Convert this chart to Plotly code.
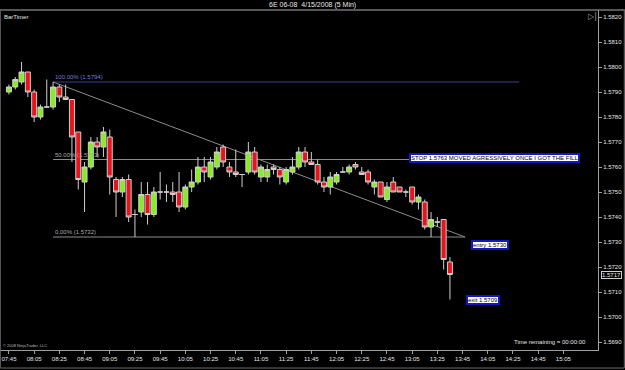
import plotly.graph_objects as go

# ---------------- data ----------------
times = ["07:45","07:50","07:55","08:00","08:05","08:10","08:15","08:20","08:25","08:30",
         "08:35","08:40","08:45","08:50","08:55","09:00","09:05","09:10","09:15","09:20",
         "09:25","09:30","09:35","09:40","09:45","09:50","09:55","10:00","10:05","10:10",
         "10:15","10:20","10:25","10:30","10:35","10:40","10:45","10:50","10:55","11:00",
         "11:05","11:10","11:15","11:20","11:25","11:30","11:35","11:40","11:45","11:50",
         "11:55","12:00","12:05","12:10","12:15","12:20","12:25","12:30","12:35","12:40",
         "12:45","12:50","12:55","13:00","13:05","13:10","13:15","13:20","13:25","13:30",
         "13:35"]
opens = [1.5790,1.5792,1.5794,1.5798,1.5790,1.5780,1.5784,1.5784,1.5792,1.5788,
         1.5787,1.5774,1.5754,1.5760,1.5770,1.5768,1.5772,1.5755,1.5750,1.5755,
         1.5741,1.5742,1.5749,1.5741,1.5750,1.5750,1.5750,1.5750,1.5744,1.5752,
         1.5754,1.5760,1.5756,1.5760,1.5768,1.5760,1.5758,1.5757,1.5758,1.5766,
         1.5756,1.5756,1.5760,1.5759,1.5754,1.5758,1.5760,1.5766,1.5762,1.5761,
         1.5754,1.5752,1.5754,1.5758,1.5758,1.5761,1.5758,1.5758,1.5752,1.5754,
         1.5747,1.5754,1.5752,1.5750,1.5752,1.5746,1.5746,1.5736,1.5738,1.5739,
         1.5722]
highs = [1.5793,1.5796,1.5802,1.5798,1.5791,1.5785,1.5795,1.5794,1.5793,1.5793,
         1.5787,1.5774,1.5762,1.5772,1.5772,1.5776,1.5775,1.5756,1.5756,1.5757,
         1.5743,1.5754,1.5754,1.5752,1.5758,1.5753,1.5754,1.5758,1.5753,1.5759,
         1.5764,1.5764,1.5764,1.5768,1.5769,1.5762,1.5767,1.5757,1.5770,1.5768,
         1.5761,1.5761,1.5761,1.5760,1.5760,1.5764,1.5768,1.5768,1.5766,1.5763,
         1.5756,1.5758,1.5758,1.5760,1.5761,1.5762,1.5760,1.5759,1.5755,1.5754,
         1.5754,1.5756,1.5752,1.5751,1.5752,1.5749,1.5747,1.5742,1.5740,1.5739,
         1.5724]
lows = [1.5789,1.5791,1.5793,1.5788,1.5778,1.5779,1.5784,1.5783,1.5786,1.5787,
        1.5762,1.5751,1.5742,1.5759,1.5764,1.5764,1.5749,1.5740,1.5748,1.5738,
        1.5732,1.5740,1.5737,1.5740,1.5747,1.5746,1.5746,1.5742,1.5743,1.5750,
        1.5753,1.5754,1.5755,1.5759,1.5760,1.5756,1.5756,1.5752,1.5757,1.5757,
        1.5754,1.5754,1.5757,1.5753,1.5753,1.5757,1.5759,1.5760,1.5761,1.5753,
        1.5750,1.5749,1.5753,1.5758,1.5757,1.5759,1.5757,1.5753,1.5749,1.5748,
        1.5746,1.5750,1.5750,1.5748,1.5745,1.5743,1.5735,1.5732,1.5736,1.5719,
        1.5707]
closes = [1.5792,1.5795,1.5798,1.5790,1.5780,1.5784,1.5784,1.5792,1.5788,1.5787,
          1.5772,1.5755,1.5760,1.5770,1.5768,1.5774,1.5756,1.5750,1.5755,1.5740,
          1.5741,1.5749,1.5741,1.5750,1.5750,1.5750,1.5749,1.5744,1.5752,1.5754,
          1.5760,1.5758,1.5762,1.5766,1.5762,1.5758,1.5757,1.5757,1.5766,1.5758,
          1.5760,1.5759,1.5759,1.5756,1.5759,1.5760,1.5766,1.5762,1.5761,1.5754,
          1.5752,1.5756,1.5757,1.5758,1.5760,1.5760,1.5757,1.5754,1.5754,1.5748,
          1.5752,1.5750,1.5750,1.5750,1.5746,1.5748,1.5736,1.5739,1.5738,1.5723,
          1.5717]

x_ticks = ["07:45","08:05","08:25","08:45","09:05","09:25","09:45","10:05","10:25","10:45",
           "11:05","11:25","11:45","12:05","12:25","12:45","13:05","13:25","13:45","14:05",
           "14:25","14:45","15:05"]

fib_high = 1.5794
fib_low = 1.5732
fib_levels = [1.0, 0.5, 0.0]
fib_start = "08:20"
fib_end = "13:47"
fib_top_end = "14:30"

notes = ["STOP 1.5763 MOVED AGRESSIVELY ONCE I GOT THE FILL", "entry 1.5730", "exit 1.5709"]
note_times = ["14:10:40", "14:06:30", "14:01:00"]
note_prices = [1.57638, 1.57288, 1.57068]

DAY = "2008-04-15 "
x = [DAY + t for t in times]

FONT = "Liberation Sans Narrow, Liberation Sans, Arial, sans-serif"
GRAY = "#a0a0a0"
TXT = "#e6e6e6"

fig = go.Figure()
fig.add_trace(go.Candlestick(
    x=x, open=opens, high=highs, low=lows, close=closes,
    increasing=dict(fillcolor="#86ee1c", line=dict(color="#cfcfcf", width=1)),
    decreasing=dict(fillcolor="#e8141b", line=dict(color="#cfcfcf", width=1)),
    whiskerwidth=0, showlegend=False, hoverinfo="skip"))

shapes = []
annotations = []
for lv in fib_levels:
    price = fib_low + (fib_high - fib_low) * lv
    end = fib_top_end if lv == 1.0 else fib_end
    col = "#3c3c8c" if lv == 1.0 else "#8c8c8c"
    shapes.append(dict(type="line", xref="x", yref="y", x0=DAY + fib_start, x1=DAY + end,
                       y0=price, y1=price, line=dict(color=col, width=1), layer="below"))
    annotations.append(dict(xref="x", yref="y", x=DAY + fib_start, y=price,
                            text="%.2f%% (%.4f)" % (lv * 100, price), showarrow=False,
                            xanchor="left", yanchor="bottom", yshift=0,
                            font=dict(family=FONT, size=6,
                                      color="#7c7cd6" if lv == 1.0 else "#a8a8a8")))
shapes.append(dict(type="line", xref="x", yref="y", x0=DAY + fib_start, x1=DAY + fib_end,
                   y0=fib_high, y1=fib_low, line=dict(color="#8c8c8c", width=1), layer="below"))

for txt, t, p in zip(notes, note_times, note_prices):
    annotations.append(dict(xref="x", yref="y", x=DAY + t, y=p, text=txt, showarrow=False,
                            bgcolor="white", bordercolor="#1414c8", borderwidth=2, borderpad=0,
                            font=dict(family=FONT, size=6, color="black")))

# last price marker
annotations.append(dict(xref="paper", yref="y", x=1.0, xshift=3, y=closes[-1],
                        text="%.4f" % closes[-1], showarrow=False, xanchor="left",
                        bgcolor="black", bordercolor="#d0d0d0", borderwidth=1, borderpad=0,
                        font=dict(family=FONT, size=6, color=TXT)))

# texts
annotations += [
    dict(xref="paper", yref="paper", x=0.522, y=1.0, yshift=5, text="6E 06-08  4/15/2008 (5 Min)",
         showarrow=False, yanchor="middle", font=dict(family=FONT, size=7, color=TXT)),
    dict(xref="paper", yref="paper", x=0.004, y=0.98, text="BarTimer", showarrow=False,
         xanchor="left", yanchor="middle", font=dict(family=FONT, size=6, color=TXT)),
    dict(xref="paper", yref="paper", x=0.99, y=0.98, text="▷|", showarrow=False,
         xanchor="center", yanchor="middle", font=dict(family="DejaVu Sans", size=8, color=GRAY)),
    dict(xref="paper", yref="paper", x=0.002, y=0.0, text="© 2008 NinjaTrader, LLC", showarrow=False,
         xanchor="left", yanchor="bottom", font=dict(family=FONT, size=4, color="#bbbbbb")),
    dict(xref="paper", yref="paper", x=0.983, y=0.01, text="Time remaining = 00:00:00", showarrow=False,
         xanchor="right", yanchor="bottom", font=dict(family=FONT, size=6, color=TXT)),
]

# frame lines
shapes += [
    dict(type="line", xref="paper", yref="paper", x0=0, x1=1.05, y0=1, y1=1,
         line=dict(color="#8a8a8a", width=1)),
    dict(type="rect", xref="paper", yref="paper", x0=0.0005, x1=1.044, y0=-0.053, y1=1,
         line=dict(color="#6a6a6a", width=1)),
]

fig.update_layout(
    width=625, height=370,
    margin=dict(l=0, r=27, t=10, b=20),
    paper_bgcolor="black", plot_bgcolor="black",
    boxgap=0.12, boxgroupgap=0.1,
    shapes=shapes, annotations=annotations,
    showlegend=False,
    xaxis=dict(type="date", range=[DAY + "07:37:54", DAY + "15:32:30"],
               tickmode="array", tickvals=[DAY + t for t in x_ticks], ticktext=x_ticks,
               showgrid=False, zeroline=False, showline=True, linecolor=GRAY, linewidth=1,
               ticks="outside", ticklen=3, tickcolor=GRAY,
               tickfont=dict(family=FONT, size=6, color=TXT),
               rangeslider=dict(visible=False), fixedrange=True),
    yaxis=dict(side="right", range=[1.56868, 1.58228], dtick=0.001, tickformat=".4f",
               showgrid=False, zeroline=False, showline=True, linecolor=GRAY, linewidth=1,
               ticks="outside", ticklen=3, tickcolor=GRAY,
               tickfont=dict(family=FONT, size=6, color=TXT), fixedrange=True),
)

fig.write_html("out.html")
